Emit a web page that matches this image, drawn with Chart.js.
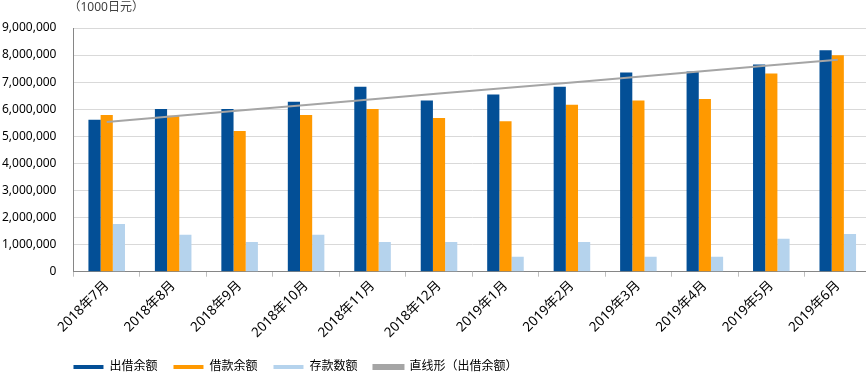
<!DOCTYPE html>
<html>
<head>
<meta charset="utf-8">
<script src="https://cdn.jsdelivr.net/npm/chart.js@4"></script>
<style>
  html, body { margin: 0; padding: 0; background: #fff; overflow: hidden; }
  #wrap { position: relative; margin-left: -15px; width: 888px; height: 374px; }
</style>
</head>
<body>
<div id="wrap"><canvas id="myChart"></canvas></div>
<script>
const months = ['2018年7月', '2018年8月', '2018年9月', '2018年10月', '2018年11月', '2018年12月',
    '2019年1月', '2019年2月', '2019年3月', '2019年4月', '2019年5月', '2019年6月']

// 1000日元
const lending = [5610000, 6010000, 6010000, 6280000, 6830000, 6320000,
    6540000, 6830000, 7360000, 7390000, 7650000, 8180000]
const borrowing = [5790000, 5760000, 5200000, 5790000, 6010000, 5680000,
    5560000, 6170000, 6320000, 6380000, 7320000, 7990000]
const deposits = [1760000, 1360000, 1100000, 1360000, 1100000, 1100000,
    550000, 1100000, 550000, 550000, 1220000, 1390000]
// linear trend of 出借余额
const trend = [5530000, 5740000, 5950000, 6160000, 6370000, 6580000,
    6780000, 6990000, 7200000, 7410000, 7620000, 7830000]

const yTicks = [0, 1000000, 2000000, 3000000, 4000000, 5000000, 6000000, 7000000, 8000000, 9000000]

const font = "'Noto Sans', 'Noto Sans CJK JP', sans-serif"
const canvas = document.getElementById('myChart')

const unitLabel = {
    id: 'unitLabel',
    afterDraw(chart) {
        const ctx = chart.ctx
        ctx.save()
        ctx.font = '12px ' + font
        ctx.fillStyle = '#404040'
        ctx.textBaseline = 'middle'
        ctx.fillText('（1000日元）', chart.chartArea.left - 5, 8)
        ctx.restore()
    }
}

// move legend so it starts under the y axis, like the original
const legendShift = {
    id: 'legendShift',
    afterLayout(chart) {
        const lg = chart.legend
        const pad = lg.options.labels.padding
        const dx = chart.chartArea.left - pad - lg.left
        lg.left += dx
        lg.right += dx
        lg.top += 3
        lg.bottom += 3
    }
}

const config = {
    data: {
        labels: months,
        datasets: [
            {
                type: 'bar',
                label: '出借余额',
                data: lending,
                backgroundColor: '#034f96',
                order: 1
            },
            {
                type: 'bar',
                label: '借款余额',
                data: borrowing,
                backgroundColor: '#ff9900',
                order: 1
            },
            {
                type: 'bar',
                label: '存款数额',
                data: deposits,
                backgroundColor: '#b5d3ed',
                order: 1
            },
            {
                type: 'line',
                label: '直线形（出借余额）',
                data: trend,
                borderColor: '#a5a5a5',
                backgroundColor: '#a5a5a5',
                borderWidth: 2,
                pointRadius: 0,
                order: 0
            }
        ]
    },
    options: {
        responsive: true,
        maintainAspectRatio: false,
        animation: false,
        datasets: {
            bar: { categoryPercentage: 0.55, barPercentage: 1.0 }
        },
        layout: {
            padding: { top: 28, right: 2, left: 0, bottom: 0 }
        },
        scales: {
            x: {
                offset: true,
                grid: {
                    drawOnChartArea: false,
                    drawTicks: true,
                    tickLength: 5,
                    color: '#bfbfbf'
                },
                border: { color: '#868686', width: 1 },
                ticks: {
                    maxRotation: 45,
                    minRotation: 45,
                    padding: 1,
                    color: '#000',
                    font: { family: font, size: 13.5 }
                }
            },
            y: {
                min: 0,
                max: 9000000,
                afterBuildTicks(scale) {
                    scale.ticks = yTicks.map(v => ({ value: v }))
                },
                grid: {
                    color: '#d9d9d9',
                    drawTicks: false
                },
                border: { color: '#868686', width: 1 },
                ticks: {
                    padding: 17,
                    color: '#000',
                    font: { family: font, size: 12 },
                    callback: v => v.toLocaleString('en-US')
                }
            }
        },
        plugins: {
            legend: {
                position: 'bottom',
                align: 'start',
                maxHeight: 32,
                labels: {
                    boxWidth: 30,
                    boxHeight: 4,
                    padding: 16,
                    color: '#000',
                    font: { family: font, size: 12 },
                    sort: (a, b) => a.datasetIndex - b.datasetIndex
                }
            },
            tooltip: { enabled: false }
        }
    },
    plugins: [unitLabel, legendShift]
}

const myChart = new Chart(canvas, config)
</script>
</body>
</html>
